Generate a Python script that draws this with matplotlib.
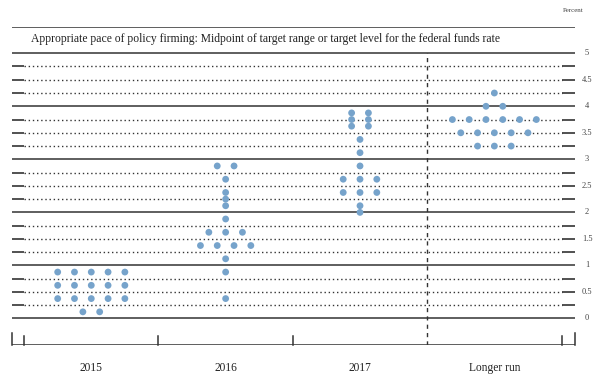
import matplotlib
matplotlib.use("Agg")
import matplotlib.pyplot as plt
import numpy as np
from collections import Counter

# ---- data ----
categories = ["2015", "2016", "2017", "Longer run"]
proj_2015 = [0.125]*2 + [0.375]*5 + [0.625]*5 + [0.875]*5
proj_2016 = [0.375, 0.875, 1.125] + [1.375]*4 + [1.625]*3 + [1.875, 2.125, 2.25, 2.375, 2.625] + [2.875]*2
proj_2017 = [2.0, 2.125] + [2.375]*3 + [2.625]*3 + [2.875, 3.125, 3.375] + [3.625]*2 + [3.75]*2 + [3.875]*2
proj_longer = [3.25]*3 + [3.5]*5 + [3.75]*6 + [4.0]*2 + [4.25]
projections = [proj_2015, proj_2016, proj_2017, proj_longer]
ytick_labels = ["0", "0.5", "1", "1.5", "2", "2.5", "3", "3.5", "4", "4.5", "5"]
title = "Appropriate pace of policy firming: Midpoint of target range or target level for the federal funds rate"

dot_color = "#76a3cb"
line_color = "#333333"
serif = ["Liberation Serif", "DejaVu Serif"]

fig = plt.figure(figsize=(6, 3.75), dpi=100)
ax = fig.add_axes([12/600, 1-345/375, 563/600, (345-26.7)/375])
xmin, xmax = 0.41, 4.6
ax.set_xlim(xmin, xmax)
ax.set_ylim(-0.5, 5.5)
ax.axis("off")

# horizontal grid lines
for k in range(0, 21):
    v = k * 0.25
    if k % 4 == 0:
        ax.plot([xmin, xmax], [v, v], color=line_color, lw=1.1, solid_capstyle="butt")
    else:
        ax.plot([0.5, 4.5], [v, v], color=line_color, lw=1.0, linestyle=(0, (1, 2.0)))
        ax.plot([xmin, 0.5], [v, v], color=line_color, lw=1.2, solid_capstyle="butt")
        ax.plot([4.5, xmax], [v, v], color=line_color, lw=1.2, solid_capstyle="butt")

# top frame line and bottom axis line
ax.plot([xmin, xmax], [5.5, 5.5], color=line_color, lw=1.1, solid_capstyle="butt")
ax.plot([xmin, xmax], [-0.5, -0.5], color=line_color, lw=1.1, solid_capstyle="butt")

# vertical dashed separator before longer run
ax.plot([3.5, 3.5], [-0.5, 5.0], color=line_color, lw=1.0, linestyle=(0, (3, 3)))

# bottom ticks
for xt in [xmin, xmax]:
    ax.plot([xt, xt], [-0.5, -0.5 + 12/53], color=line_color, lw=1.1, clip_on=False)
for xt in [0.5, 1.5, 2.5, 4.5]:
    ax.plot([xt, xt], [-0.5, -0.5 + 9/53], color=line_color, lw=1.1, clip_on=False)

# dots
spacing = 0.125
for i, vals in enumerate(projections):
    center = i + 1
    counts = Counter(vals)
    for v, n in counts.items():
        xs = center + (np.arange(n) - (n - 1) / 2) * spacing
        ax.scatter(xs, [v]*n, s=24, color=dot_color, edgecolors="none", zorder=5)

# right tick labels
for k, lab in enumerate(ytick_labels):
    ax.text(4.69, k*0.5, lab, ha="center", va="center", fontsize=6,
            family=serif, color="#444444", clip_on=False)

# category labels
for i, c in enumerate(categories):
    ax.text(i + 1, -0.5 - 23/53, c, ha="center", va="center", fontsize=8.3,
            family=serif, color="#222222", clip_on=False)

# title inside frame
ax.text(0.552, 5.27, title, ha="left", va="center", fontsize=8.4,
        family=serif, color="#222222")

fig.text(573/600, 1 - 10/375, "Percent", ha="center", va="center",
         fontsize=5, family=serif, color="#444444")

fig.savefig("out.png", dpi=100, facecolor="white")
